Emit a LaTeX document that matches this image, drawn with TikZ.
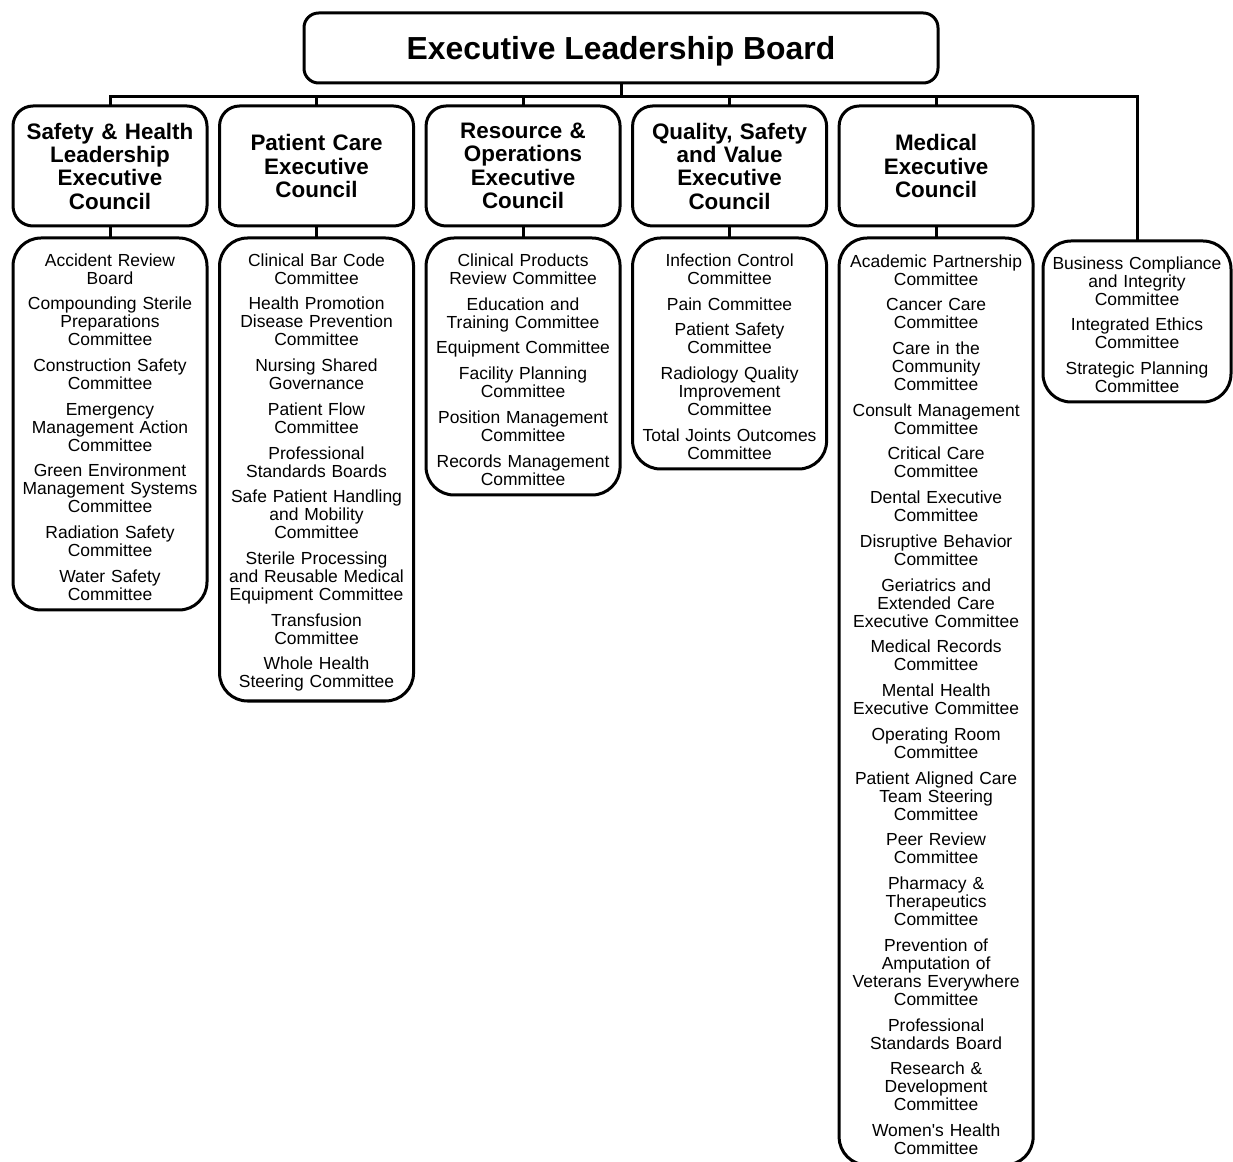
\documentclass[tikz,border=0pt]{standalone}
\usepackage{fontspec}
\setmainfont{Liberation Sans}
\usetikzlibrary{positioning}

\begin{document}
\begin{tikzpicture}[x=0.75pt,y=-0.75pt,line width=2.25pt,node distance=9.4pt,
    board/.style={draw,rounded corners=11pt,outer sep=0pt,minimum width=475.5pt,minimum height=52.5pt,
      text depth=0pt,font=\fontsize{23.9}{28}\selectfont\bfseries},
    council/.style={draw,rounded corners=15pt,align=center,inner sep=0pt,outer sep=0pt,text width=145.5pt,
      minimum height=90pt,font=\fontsize{16.8}{17.5}\selectfont\bfseries},
    cmt/.style={draw,rounded corners=21pt,align=center,inner sep=0pt,outer sep=0pt,text width=145.5pt,
      font=\fontsize{13.1}{13.5}\selectfont,execute at begin node=\rule{0pt}{14pt}}]

  \useasboundingbox (0,0) rectangle (1233,1162);

  \node[board] (elb) at (621,48) {Executive Leadership Board};

  \node[council] (shl) at (110,166) {Safety \& Health\\Leadership\\Executive\\Council};
  \node[council] (pce) [right=of shl] {Patient Care\\Executive\\Council};
  \node[council] (roe) [right=of pce] {Resource \&\\Operations\\Executive\\Council};
  \node[council] (qsv) [right=of roe] {Quality, Safety\\and Value\\Executive\\Council};
  \node[council] (mec) [right=of qsv] {Medical\\Executive\\Council};

  \node[cmt,minimum height=279pt] (shlc) [below=9pt of shl] {Accident Review\\Board\\[5.8pt]
    Compounding Sterile\\Preparations\\Committee\\[5.8pt]
    Construction Safety\\Committee\\[5.8pt]
    Emergency\\Management Action\\Committee\\[5.8pt]
    Green Environment\\Management Systems\\Committee\\[5.8pt]
    Radiation Safety\\Committee\\[5.8pt]
    Water Safety\\Committee};
  \node[cmt,minimum height=347.25pt] (pcec) [below=9pt of pce] {Clinical Bar Code\\Committee\\[5.8pt]
    Health Promotion\\Disease Prevention\\Committee\\[5.8pt]
    Nursing Shared\\Governance\\[5.8pt]
    Patient Flow\\Committee\\[5.8pt]
    Professional\\Standards Boards\\[5.8pt]
    Safe Patient Handling\\and Mobility\\Committee\\[5.8pt]
    Sterile Processing\\and Reusable Medical\\Equipment Committee\\[5.8pt]
    Transfusion\\Committee\\[5.8pt]
    Whole Health\\Steering Committee};
  \node[cmt,minimum height=192.75pt] (roec) [below=9pt of roe] {Clinical Products\\Review Committee\\[5.8pt]
    Education and\\Training Committee\\[5.8pt]
    Equipment Committee\\[5.8pt]
    Facility Planning\\Committee\\[5.8pt]
    Position Management\\Committee\\[5.8pt]
    Records Management\\Committee};
  \node[cmt,minimum height=173.25pt] (qsvc) [below=9pt of qsv] {Infection Control\\Committee\\[5.8pt]
    Pain Committee\\[5.8pt]
    Patient Safety\\Committee\\[5.8pt]
    Radiology Quality\\Improvement\\Committee\\[5.8pt]
    Total Joints Outcomes\\Committee};
  \node[cmt,minimum height=695.25pt] (mecc) [below=9pt of mec] {Academic Partnership\\Committee\\[5.8pt]
    Cancer Care\\Committee\\[5.8pt]
    Care in the\\Community\\Committee\\[5.8pt]
    Consult Management\\Committee\\[5.8pt]
    Critical Care\\Committee\\[5.8pt]
    Dental Executive\\Committee\\[5.8pt]
    Disruptive Behavior\\Committee\\[5.8pt]
    Geriatrics and\\Extended Care\\Executive Committee\\[5.8pt]
    Medical Records\\Committee\\[5.8pt]
    Mental Health\\Executive Committee\\[5.8pt]
    Operating Room\\Committee\\[5.8pt]
    Patient Aligned Care\\Team Steering\\Committee\\[5.8pt]
    Peer Review\\Committee\\[5.8pt]
    Pharmacy \&\\Therapeutics\\Committee\\[5.8pt]
    Prevention of\\Amputation of\\Veterans Everywhere\\Committee\\[5.8pt]
    Professional\\Standards Board\\[5.8pt]
    Research \&\\Development\\Committee\\[5.8pt]
    Women\textquotesingle s Health\\Committee};
  \node[cmt,text width=141pt,minimum height=120.75pt,anchor=north] (bci) at (1137,241) {Business Compliance\\and Integrity\\Committee\\[5.8pt]
    Integrated Ethics\\Committee\\[5.8pt]
    Strategic Planning\\Committee};

  % connectors
  \coordinate (bus) at (621,97);
  \draw (elb.south) -- (bus);
  \draw (shl.north) -- (shl.north |- bus) -| (bci.north);
  \foreach \c in {pce,roe,qsv,mec}
    \draw (\c.north) -- (\c.north |- bus);
  \foreach \c in {shl,pce,roe,qsv,mec}
    \draw (\c.south) -- (\c c.north);
\end{tikzpicture}
\end{document}
